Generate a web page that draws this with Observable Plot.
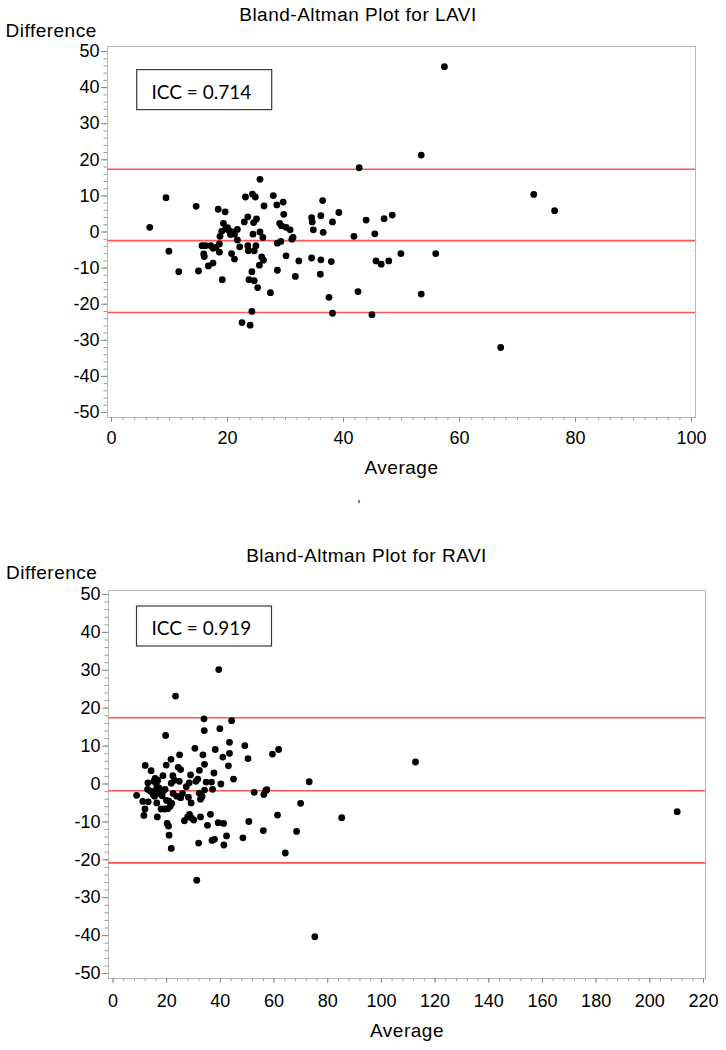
<!DOCTYPE html>
<html><head><meta charset="utf-8">
<script src="https://cdn.jsdelivr.net/npm/d3@7"></script>
<script src="https://cdn.jsdelivr.net/npm/@observablehq/plot@0.6"></script>
<style>
body{margin:0;background:#fff;}
svg{display:block;}
</style></head><body><div id="chart"></div>
<script>
// ---- LAVI data ----
const laviTitle = "Bland-Altman Plot for LAVI";
const laviICC = "ICC = 0.714";
const laviAvg = [6.6,9.4,9.9,11.6,14.6,15.0,15.6,15.9,16.0,16.2,16.7,17.1,17.5,17.5,18.0,18.4,18.6,18.6,18.7,19.1,19.0,19.3,19.6,19.7,20.0,20.2,20.5,20.7,20.9,21.2,21.2,21.7,21.7,22.1,22.5,22.9,23.1,23.5,23.5,23.6,23.7,23.9,24.2,24.2,24.3,24.4,24.5,24.6,24.6,24.8,24.9,25.0,25.2,25.5,25.6,25.6,25.9,26.1,26.2,26.3,27.4,27.9,28.5,28.6,28.6,29.0,29.2,29.3,29.6,29.7,30.1,30.1,30.8,31.1,31.3,31.7,32.3,34.5,34.6,34.8,34.5,36.0,36.1,36.1,36.4,36.5,37.5,37.9,38.1,38.1,39.2,41.8,42.5,42.7,43.9,44.9,45.4,45.6,46.5,47.0,47.8,48.4,49.9,53.4,53.4,55.9,57.4,67.1,72.8,76.4];
const laviDiff = [1.3,9.5,-5.3,-11.0,7.1,-10.8,-3.8,-6.1,-6.8,-3.8,-9.4,-3.8,-8.6,-4.5,-4.3,6.3,-3.3,-5.6,-1.2,-13.2,0.2,2.4,5.6,0.9,1.2,0.5,-0.7,-6.0,0.0,-7.5,-0.6,0.7,-2.2,-4.1,-25.1,2.8,9.7,4.2,-3.8,-5.2,-13.2,-25.8,-22.0,-11.0,10.5,-0.6,2.6,-5.2,-13.5,9.7,-3.8,3.6,-15.4,-9.2,14.6,0.0,-6.9,-1.5,-7.8,7.2,-16.8,10.1,7.5,-3.1,-10.6,2.4,-2.6,1.7,8.3,4.9,-6.6,1.3,0.6,-2.0,-1.5,-12.3,-8.0,4.0,2.8,0.6,-7.2,-11.7,4.5,-7.7,8.7,-0.1,-18.1,-8.2,2.8,-22.5,5.4,-1.2,-16.5,17.8,3.3,-22.9,-0.5,-8.0,-8.9,3.7,-8.0,4.7,-6.0,21.3,-17.2,-6.0,45.8,-32.0,10.4,5.9];
const laviLimits = [17.4, -2.4, -22.3];
const laviXTicks = [0, 20, 40, 60, 80, 100];

// ---- RAVI data ----
const raviTitle = "Bland-Altman Plot for RAVI";
const raviICC = "ICC = 0.919";
const raviAvg = [8.8,11.1,11.5,11.9,12.0,13.1,13.0,12.9,14.0,14.2,14.6,15.0,15.2,15.5,15.7,16.1,16.2,16.3,16.5,16.7,17.1,17.3,17.7,17.9,18.3,18.6,18.9,19.3,19.4,19.6,19.8,19.9,20.2,20.4,20.7,20.8,20.9,21.3,21.6,21.7,21.7,21.9,22.3,22.4,22.9,23.3,23.7,24.3,24.7,24.8,25.2,25.2,25.9,26.6,27.3,27.8,28.1,28.4,28.5,28.9,29.1,29.3,30.1,30.5,30.9,31.2,31.6,31.9,32.1,32.2,32.6,32.6,33.2,33.5,33.9,34.0,34.1,34.1,34.7,35.2,36.3,36.7,36.9,37.1,37.6,37.8,38.1,39.2,39.4,39.8,40.2,40.9,41.2,41.3,42.3,43.0,43.4,43.4,44.2,44.9,48.4,49.1,50.3,50.6,52.6,56.0,56.2,56.9,57.3,59.4,61.3,61.7,64.2,68.4,69.9,73.1,75.2,85.2,112.7,210.2];
const raviDiff = [-3.0,-4.6,-8.3,-6.6,4.9,-4.7,0.3,-1.4,-1.9,3.5,-2.2,-2.8,0.7,-3.2,1.5,0.1,-1.3,-5.0,-8.7,1.0,-1.0,-2.5,-1.6,-6.6,-3.1,2.2,-1.8,-6.6,-1.4,12.8,5.0,-4.3,-10.4,-6.5,-11.1,-4.5,-13.5,-5.9,6.5,-17.0,0.2,-5.1,2.2,-2.5,1.0,23.2,-3.2,4.4,0.7,7.7,3.8,-3.6,-2.5,-9.7,-0.7,-8.7,-3.5,0.3,-8.0,2.4,-5.0,-9.0,-9.5,9.4,0.7,-25.4,1.3,-15.6,-2.4,3.6,-8.7,-4.0,-3.3,7.7,17.2,14.1,5.2,-1.6,0.5,-10.9,-8.0,0.5,-14.9,-1.4,2.9,-14.6,9.1,-10.2,30.2,14.6,0.0,7.1,-10.4,-16.1,-13.7,4.8,11.0,8.1,16.7,1.3,-14.2,10.1,6.7,-9.9,-2.2,-12.3,-2.8,-1.7,-1.5,7.9,-8.2,9.1,-18.2,-12.5,-5.1,0.6,-40.3,-8.9,5.8,-7.3];
const raviLimits = [17.5, -1.8, -20.8];
const raviXTicks = [0, 20, 40, 60, 80, 100, 120, 140, 160, 180, 200, 220];

const yTicks = [-50, -40, -30, -20, -10, 0, 10, 20, 30, 40, 50];
const yLabel = "Difference";
const xLabel = "Average";

const FONT = "'Liberation Sans', Arial, sans-serif";
const LABEL_SET = new Set([laviTitle, raviTitle, yLabel, xLabel]);
const plainFormat = d => String(d);

function boxMark(offX, offY, w, h) {
  return (index, scales, values, dims) => {
    const g = d3.create("svg:g");
    g.append("rect")
      .attr("x", dims.marginLeft + offX).attr("y", dims.marginTop + offY)
      .attr("width", w).attr("height", h)
      .attr("fill", "white").attr("stroke", "#3a3a3a").attr("stroke-width", 1.2);
    return g.node();
  };
}

function panel(cfg) {
  const svg = Plot.plot({
    width: 726,
    height: cfg.height,
    marginTop: cfg.mt, marginBottom: cfg.mb, marginLeft: cfg.ml, marginRight: cfg.mr,
    style: {fontFamily: FONT, fontSize: "18px", color: "black", background: "white", overflow: "visible"},
    x: {domain: [0, cfg.xMax], insetLeft: cfg.insL, insetRight: cfg.insR},
    y: {domain: [-50, 50], insetTop: cfg.insT, insetBottom: cfg.insB},
    marks: [
      Plot.frame({stroke: "#b8b8b8"}),
      Plot.axisY({ticks: d3.range(-50, 51, 2), tickSize: 3.5, stroke: "#9a9a9a", fill: "none", label: null}),
      Plot.axisX({ticks: d3.range(0, cfg.xMax + 1, cfg.xMinor), tickSize: 3, stroke: "#9a9a9a", fill: "none", label: null}),
      Plot.axisY({ticks: yTicks, tickFormat: plainFormat, tickSize: 6, tickPadding: 2, stroke: "#8a8a8a", fill: "black", label: null, fontSize: 18}),
      Plot.axisX({ticks: cfg.xTicks, tickFormat: plainFormat, tickSize: 5, tickPadding: cfg.xPad, stroke: "#8a8a8a", fill: "black", label: null, fontSize: 18}),
      Plot.ruleY(cfg.limits, {stroke: "#ff5555", strokeWidth: 1.6}),
      Plot.dot(cfg.avg, {x: cfg.avg, y: cfg.diff, r: 3.4, fill: "black"}),
      boxMark(cfg.boxX, cfg.boxY, 135, 40),
      Plot.text([cfg.icc], {text: d => d, frameAnchor: "top-left", dx: cfg.iccX, dy: cfg.iccY, textAnchor: "start", lineAnchor: "bottom", fontFamily: "Lato, 'Open Sans', sans-serif", fontSize: 19}),
      Plot.text([cfg.title], {text: d => d, frameAnchor: "top-left", dx: cfg.titleX, dy: cfg.titleY, textAnchor: "middle", lineAnchor: "bottom", fontSize: 19}),
      Plot.text([yLabel], {text: d => d, frameAnchor: "top-left", dx: cfg.yLabX, dy: cfg.yLabY, textAnchor: "start", lineAnchor: "bottom", fontSize: 19}),
      Plot.text([xLabel], {text: d => d, frameAnchor: "bottom", dy: cfg.xLabY, textAnchor: "middle", lineAnchor: "bottom", fontSize: 19}),
      ...(cfg.extra || [])
    ]
  });
  d3.select(svg).selectAll("text").filter(function() { return LABEL_SET.has(this.textContent); })
    .attr("letter-spacing", "0.5px");
  return svg;
}

const laviChart = panel({
  height: 510, mt: 46, mb: 93, ml: 107, mr: 31,
  xMax: 100, xMinor: 2, xTicks: laviXTicks, xPad: 9,
  insL: 4, insR: 4, insT: 5, insB: 5,
  limits: laviLimits, avg: laviAvg, diff: laviDiff,
  boxX: 29.7, boxY: 23.6, icc: laviICC, iccX: 44, iccY: 52,
  title: laviTitle, titleX: 250.5, titleY: -25.3,
  yLabX: -102, yLabY: -10,
  xLabY: 56,
  extra: [Plot.text(["'"], {text: d => d, frameAnchor: "top-left", dx: 250, dy: 463, lineAnchor: "bottom", fontSize: 15, fill: "#333"})]
});

const raviChart = panel({
  height: 540, mt: 80, mb: 72, ml: 108, mr: 21,
  xMax: 220, xMinor: 4, xTicks: raviXTicks, xPad: 11,
  insL: 4.5, insR: 2, insT: 4, insB: 5,
  limits: raviLimits, avg: raviAvg, diff: raviDiff,
  boxX: 28.5, boxY: 16, icc: raviICC, iccX: 43, iccY: 44.3,
  title: raviTitle, titleX: 258, titleY: -29,
  yLabX: -102.4, yLabY: -12,
  xLabY: 58
});

const root = document.getElementById("chart");
root.appendChild(laviChart);
root.appendChild(raviChart);
</script></body></html>
